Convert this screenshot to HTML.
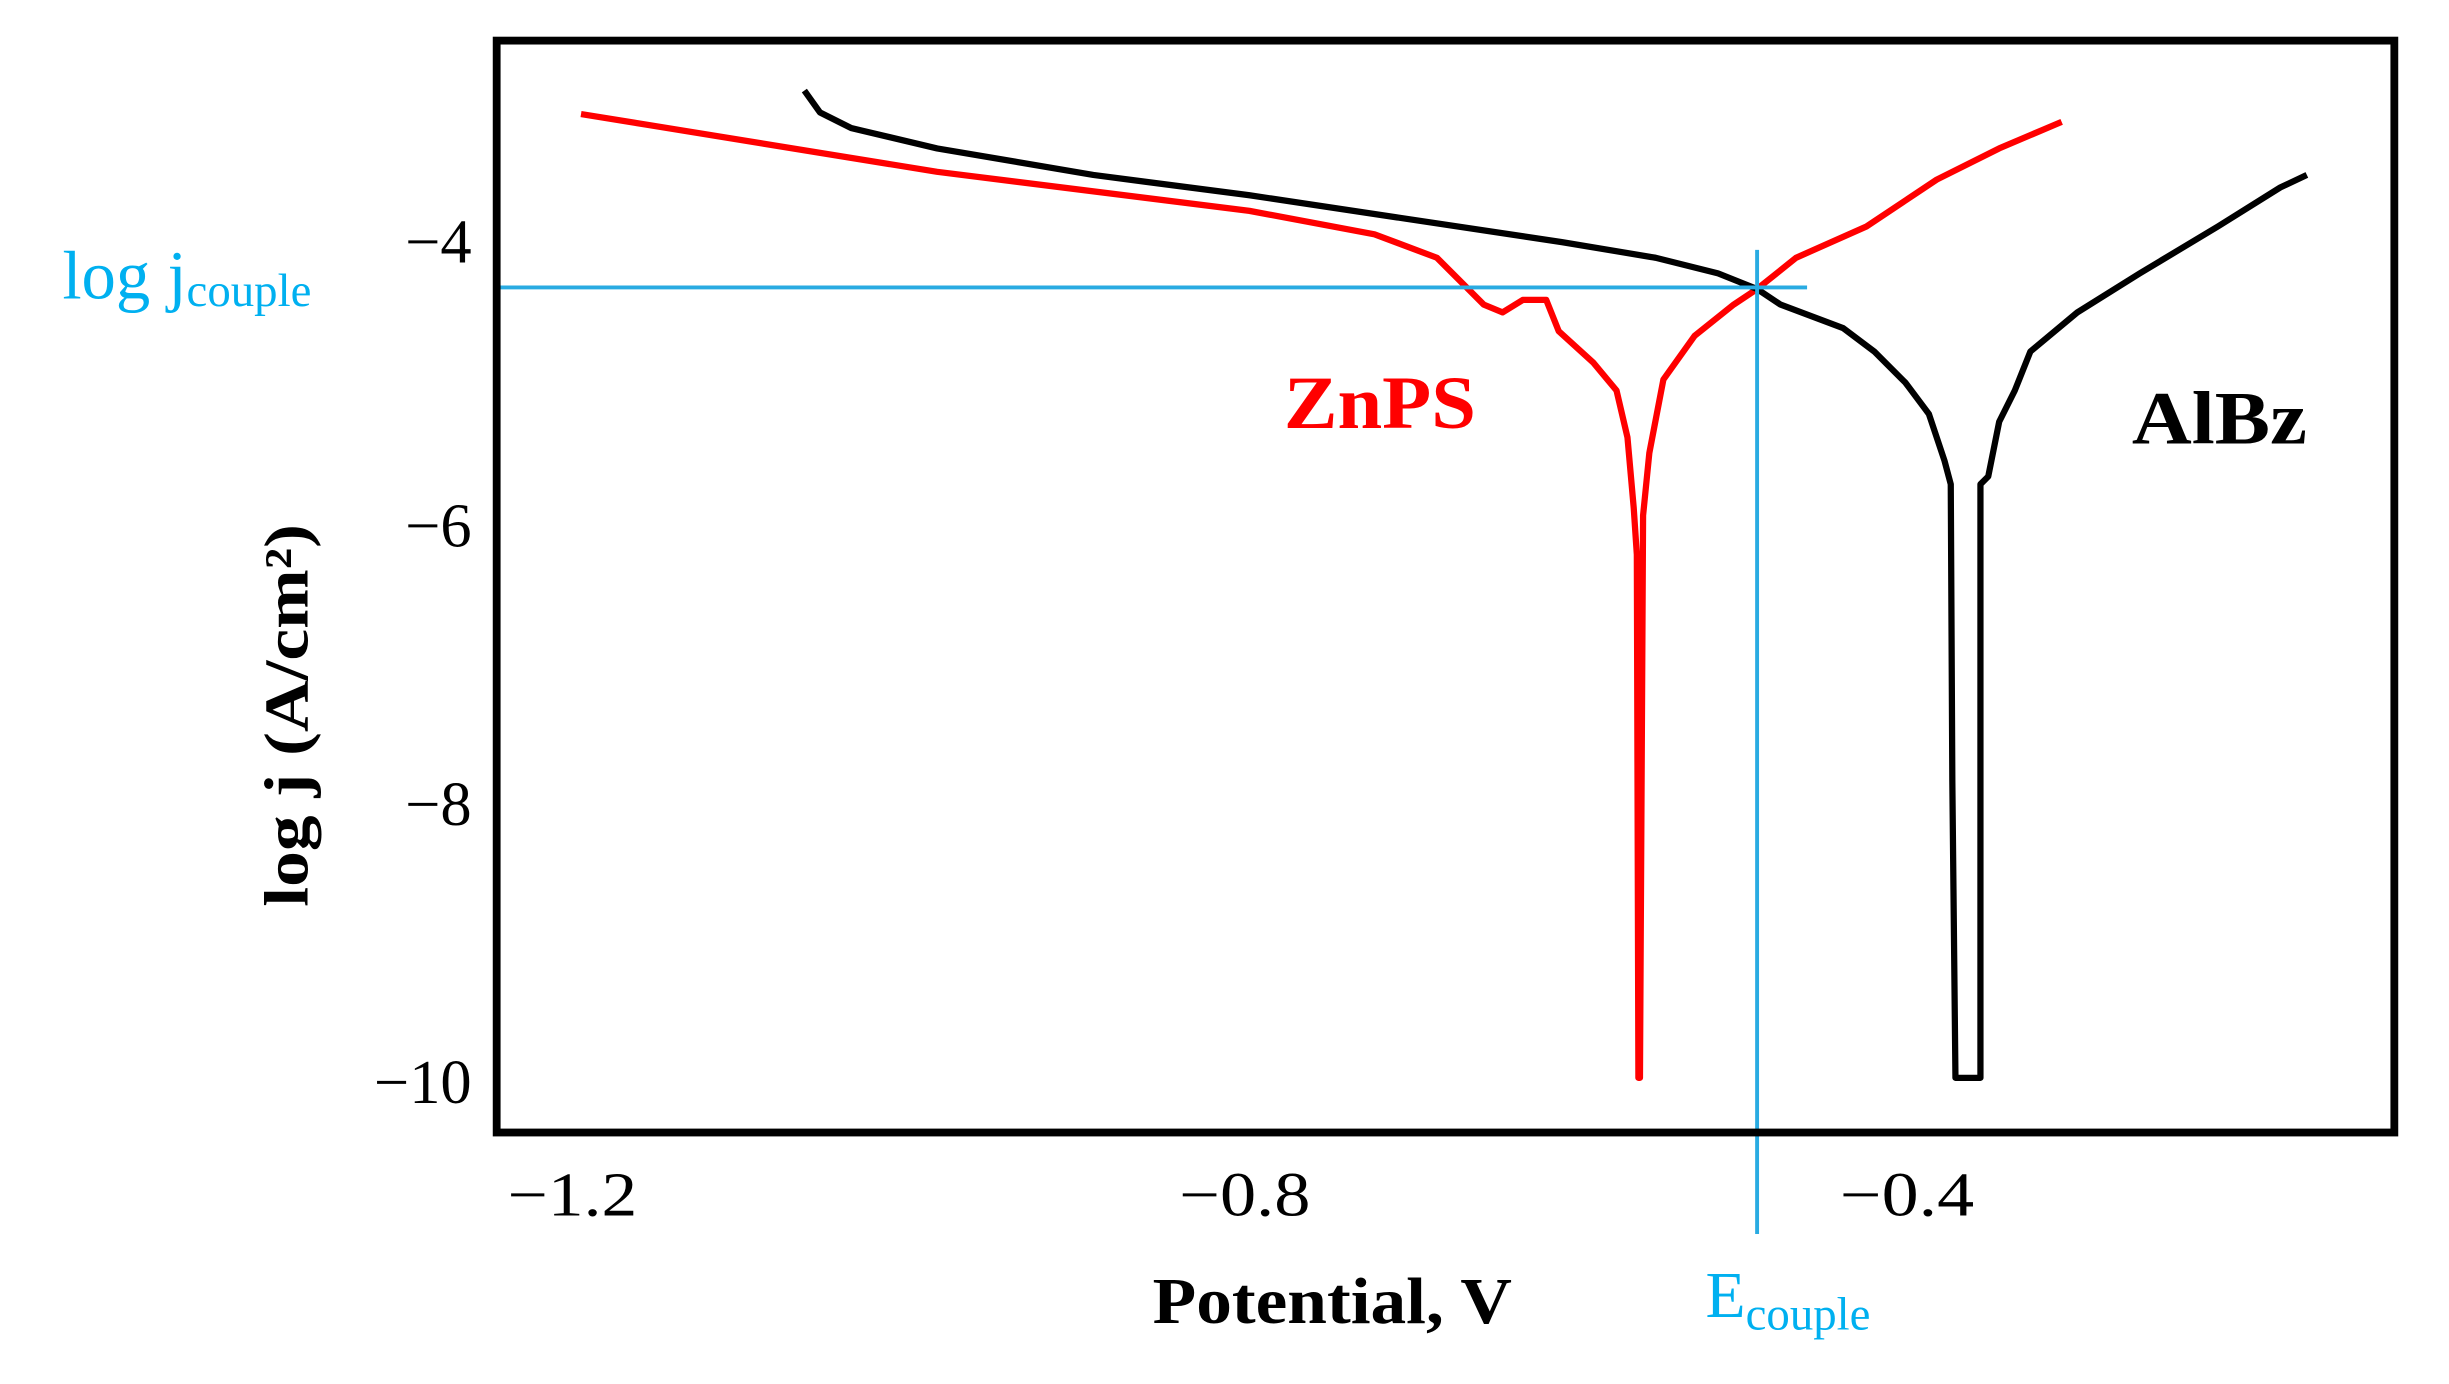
<!DOCTYPE html>
<html><head><meta charset="utf-8"><style>html,body{margin:0;padding:0;background:#fff}svg{display:block}</style></head>
<body>
<svg width="2449" height="1384" viewBox="0 0 1568 886" preserveAspectRatio="none" xmlns="http://www.w3.org/2000/svg">
<rect x="0" y="0" width="1568" height="886" fill="#fff"/>
<g font-family="Liberation Serif, serif" font-size="40" fill="#000" text-anchor="end">
<text x="302" y="168">−4</text>
<text x="302" y="350">−6</text>
<text x="302" y="528">−8</text>
<text x="302" y="706">−10</text>
</g>
<g font-family="Liberation Serif, serif" font-size="40" fill="#000">
<text x="325" y="778" textLength="83" lengthAdjust="spacingAndGlyphs">−1.2</text>
<text x="755" y="778" textLength="84" lengthAdjust="spacingAndGlyphs">−0.8</text>
<text x="1178" y="778" textLength="86" lengthAdjust="spacingAndGlyphs">−0.4</text>
</g>
<text x="738" y="847" font-family="Liberation Serif, serif" font-size="42" font-weight="bold" textLength="230" lengthAdjust="spacingAndGlyphs">Potential, V</text>
<text transform="translate(197,458) rotate(-90)" font-family="Liberation Serif, serif" font-size="40" font-weight="bold" text-anchor="middle" textLength="245" lengthAdjust="spacingAndGlyphs">log j (A/cm²)</text>
<text x="40" y="191" font-family="Liberation Serif, serif" font-size="44" fill="#00b0f0">log j<tspan font-size="30" dy="5">couple</tspan></text>
<text x="1092" y="843" font-family="Liberation Serif, serif" font-size="42" fill="#00b0f0">E<tspan font-size="30" dy="8">couple</tspan></text>
<text x="822" y="274" font-family="Liberation Serif, serif" font-size="48" font-weight="bold" fill="#ff0000" textLength="123" lengthAdjust="spacingAndGlyphs">ZnPS</text>
<text x="1365" y="284" font-family="Liberation Serif, serif" font-size="48" font-weight="bold" fill="#000" textLength="112" lengthAdjust="spacingAndGlyphs">AlBz</text>
<polyline fill="none" stroke="#ff0000" stroke-width="4" stroke-linejoin="round" points="372,73 600,110 800,135 880,150 920,165 940,185 950,195 962,200 975,192 990,192 998,212 1020,232 1035,250 1042,280 1046,325 1048,355 1049,690 1050,690 1052,330 1056,290 1065,243 1085,215 1110,195 1125,185 1150,165 1195,145 1240,115 1280,95 1320,78"/>
<polyline fill="none" stroke="#000" stroke-width="4" stroke-linejoin="round" points="515,58 525,72 545,82 600,95 700,112 800,125 900,140 1000,155 1060,165 1100,175 1125,185 1140,195 1180,210 1200,225 1220,245 1235,265 1245,295 1249,310 1250,500 1252,690 1268,690 1268,310 1273,305 1280,270 1290,250 1300,225 1330,200 1370,175 1420,145 1460,120 1477,112"/>
<line x1="318" y1="184" x2="1157" y2="184" stroke="#29abe2" stroke-width="2.5"/>
<line x1="1125" y1="160" x2="1125" y2="790" stroke="#29abe2" stroke-width="2.5"/>
<rect x="318" y="26" width="1215" height="699" fill="none" stroke="#000" stroke-width="5"/>
</svg>
</body></html>
